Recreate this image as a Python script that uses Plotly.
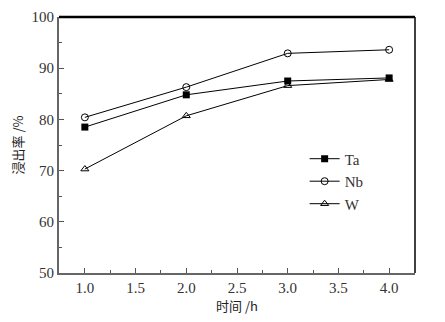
import plotly.graph_objects as go

time_h = [1.0, 2.0, 3.0, 4.0]
ta = [78.5, 84.8, 87.5, 88.1]
nb = [80.4, 86.3, 92.9, 93.6]
w = [70.3, 80.7, 86.6, 87.8]

fig = go.Figure()
common = dict(mode="lines+markers", line=dict(color="black", width=1))
fig.add_trace(go.Scatter(x=time_h, y=ta, name="Ta",
                         marker=dict(symbol="square", size=7, color="black"), **common))
fig.add_trace(go.Scatter(x=time_h, y=nb, name="Nb",
                         marker=dict(symbol="circle-open", size=7, color="black", line=dict(width=1)), **common))
fig.add_trace(go.Scatter(x=time_h, y=w, name="W",
                         marker=dict(symbol="triangle-up-open", size=7, color="black", line=dict(width=1)), **common))

serif = "Liberation Serif, Times New Roman, serif"
fig.update_layout(
    width=437, height=314,
    margin=dict(l=51, r=30, t=9, b=49, autoexpand=False),
    paper_bgcolor="white", plot_bgcolor="white",
    font=dict(family=serif, size=14, color="#333"),
    showlegend=True,
    legend=dict(x=0.69, y=0.51, xanchor="left", yanchor="top",
                bgcolor="rgba(0,0,0,0)", font=dict(family=serif, size=15, color="#333"),
                tracegroupgap=0),
    xaxis=dict(range=[0.745, 4.255], tickvals=[1.0, 1.5, 2.0, 2.5, 3.0, 3.5, 4.0],
               ticktext=["1.0", "1.5", "2.0", "2.5", "3.0", "3.5", "4.0"], automargin=False,
               ticks="inside", ticklen=5, tickcolor="#555", showgrid=False, zeroline=False,
               showline=True, linecolor="#666", linewidth=2, mirror=False,
               minor=dict(dtick=0.25, tick0=0.75, ticks="inside", ticklen=3, tickcolor="#555"),
               title=dict(text="时间 /h", font=dict(family="Noto Sans CJK SC", size=13, color="#222"), standoff=6),
               tickfont=dict(family=serif, size=15, color="#333")),
    yaxis=dict(range=[50, 100], tickvals=[50, 60, 70, 80, 90, 100], automargin=False,
               ticks="inside", ticklen=5, tickcolor="#555", showgrid=False, zeroline=False,
               showline=True, linecolor="#666", linewidth=2,
               minor=dict(dtick=5, ticks="inside", ticklen=3, tickcolor="#555"),
               title=dict(text="浸出率 /%", font=dict(family="Noto Sans CJK SC", size=13, color="#222"), standoff=6),
               tickfont=dict(family=serif, size=15, color="#333")),
)
# top and right frame lines
fig.add_shape(type="line", xref="paper", yref="paper", x0=0, x1=1, y0=1, y1=1,
              line=dict(color="black", width=2.5))
fig.add_shape(type="line", xref="paper", yref="paper", x0=1, x1=1, y0=0, y1=1,
              line=dict(color="black", width=1.5))

fig.write_html("out.html")
